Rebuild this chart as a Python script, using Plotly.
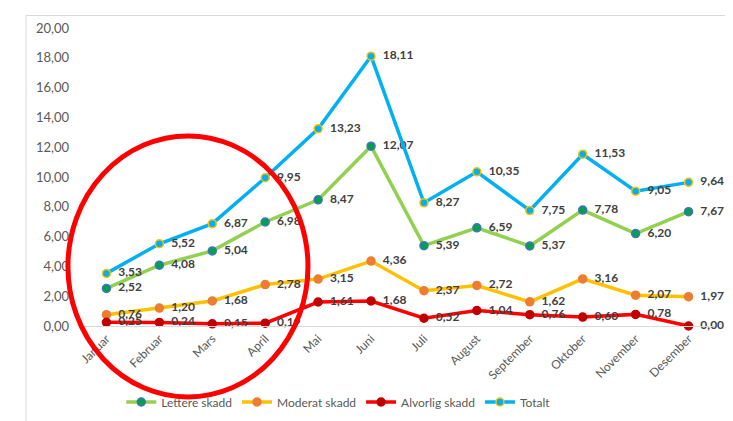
import plotly.graph_objects as go

months = ["Januar", "Februar", "Mars", "April", "Mai", "Juni", "Juli", "August",
          "September", "Oktober", "November", "Desember"]
lettere = [2.52, 4.08, 5.04, 6.98, 8.47, 12.07, 5.39, 6.59, 5.37, 7.78, 6.20, 7.67]
moderat = [0.76, 1.20, 1.68, 2.78, 3.15, 4.36, 2.37, 2.72, 1.62, 3.16, 2.07, 1.97]
alvorlig = [0.25, 0.24, 0.15, 0.19, 1.61, 1.68, 0.52, 1.04, 0.76, 0.60, 0.78, 0.00]
totalt = [3.53, 5.52, 6.87, 9.95, 13.23, 18.11, 8.27, 10.35, 7.75, 11.53, 9.05, 9.64]
y_ticks = [0, 2, 4, 6, 8, 10, 12, 14, 16, 18, 20]

def fmt(vals):
    return ["  " + f"{v:.2f}".replace(".", ",") for v in vals]

series = [
    ("Lettere skadd", lettere, "#92D050", "#00A050", "#4472C4"),
    ("Moderat skadd", moderat, "#FFC000", "#ED7D31", "#ED7D31"),
    ("Alvorlig skadd", alvorlig, "#FF0000", "#C00000", "#C00000"),
    ("Totalt", totalt, "#00B0F0", "#00B0F0", "#FFC000"),
]

fig = go.Figure()
for name, vals, lc, mfill, mline in series:
    fig.add_trace(go.Scatter(
        x=months, y=vals, name=name, mode="lines+markers+text",
        line=dict(color=lc, width=3.5),
        marker=dict(size=8, color=mfill, line=dict(color=mline, width=1.5)),
        text=fmt(vals), textposition="middle right",
        textfont=dict(family="Lato", size=12, color="#404040", weight="bold"),
        cliponaxis=False,
    ))

fig.update_layout(
    width=733, height=421,
    margin=dict(l=72, r=26, t=17, b=97),
    paper_bgcolor="white", plot_bgcolor="white",
    separators=", ",
    font=dict(family="Lato", color="#595959"),
    showlegend=True,
    legend=dict(orientation="h", x=0.065, y=-0.255, xanchor="left", yanchor="middle",
                font=dict(size=12, color="#595959"), itemwidth=30, tracegroupgap=0,
                bgcolor="rgba(0,0,0,0)"),
    xaxis=dict(range=[-0.5, 11.5], showgrid=False, zeroline=False, showline=True,
               linecolor="#D9D9D9", linewidth=1, tickangle=-45, ticks="",
               tickfont=dict(size=12, color="#595959")),
    yaxis=dict(range=[0, 20], tickvals=y_ticks, tickformat=".2f", showgrid=False,
               zeroline=False, showline=False, ticks="", ticklabelstandoff=10,
               tickfont=dict(size=13, color="#595959")),
    shapes=[
        dict(type="rect", xref="paper", yref="paper", x0=-0.085, x1=1.03, y0=-0.35, y1=1.042,
             line=dict(color="#D9D9D9", width=1), layer="below"),
        dict(type="circle", xref="paper", yref="paper", x0=-0.019, x1=0.359, y0=-0.238, y1=0.638,
             line=dict(color="#FF0000", width=5)),
    ],
    annotations=[
        dict(text="¶", xref="paper", yref="paper", x=1.033, y=-0.29, showarrow=False,
             font=dict(size=12, color="#000000"), xanchor="left"),
    ],
)

fig.write_html("out.html")
